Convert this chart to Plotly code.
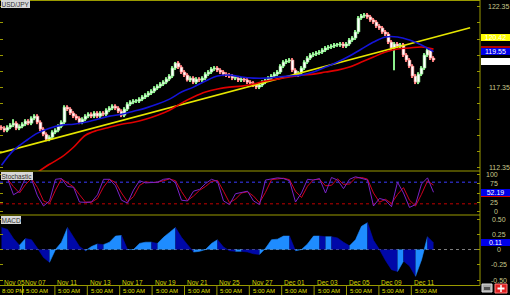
import plotly.graph_objects as go

# ---------------- data ----------------
close = [114.79,114.66,114.85,114.98,115.10,114.79,114.91,115.04,115.23,115.10,
         115.41,115.54,115.16,114.73,114.41,114.10,114.23,114.54,114.66,114.91,
         115.16,116.10,115.98,115.73,115.54,115.41,115.16,115.35,115.54,115.66,
         115.54,115.73,115.54,115.73,115.66,115.91,116.04,116.16,116.04,115.85,
         115.60,115.98,116.29,116.41,116.48,116.48,116.60,116.73,116.85,116.98,
         117.10,117.29,117.41,117.54,117.66,117.85,118.04,118.54,118.85,118.60,
         118.29,118.10,117.79,117.91,117.66,117.85,117.79,117.91,118.16,118.29,
         118.48,118.54,118.41,118.29,118.16,118.10,118.04,117.91,117.91,117.79,
         117.85,117.79,117.66,117.60,117.48,117.35,117.48,117.66,117.79,117.91,
         118.04,118.16,118.29,118.66,118.91,118.98,119.04,118.41,118.10,118.23,
         118.54,118.91,119.16,119.35,119.41,119.48,119.54,119.66,119.79,119.85,
         119.91,119.98,119.98,120.04,119.91,120.04,120.29,120.41,120.79,121.66,
         121.79,121.85,121.73,121.54,121.41,121.16,121.04,120.79,120.66,120.16,
         119.79,120.04,119.91,119.98,119.35,119.04,118.66,118.04,117.66,118.16,
         118.54,119.35,119.66,119.16,119.04]
first_open = 114.85
spike_low = {131: 118.40, 62: 117.70}
spike_high = {4: 115.35, 58: 118.92}

# moving averages, one value every 4 bars
blue_ma = [112.48,113.41,113.98,114.48,114.79,114.98,115.04,115.16,115.35,115.54,
           115.66,115.85,116.04,116.29,116.60,117.04,117.35,117.73,118.04,118.10,
           117.98,117.91,117.91,117.98,118.04,118.10,118.29,118.60,118.91,119.29,
           119.73,120.16,120.48,120.48,120.29,119.98,119.56]
red_ma_start = 3  # in 4-bar steps
red_ma = [112.04,112.54,112.98,113.60,114.35,114.66,114.85,115.04,115.16,115.35,
          115.60,115.91,116.35,116.73,117.04,117.23,117.35,117.41,117.54,117.73,
          117.85,117.98,118.10,118.16,118.29,118.41,118.60,118.91,119.23,119.54,
          119.73,119.79,119.85,119.72]
trend_x = [-0.5, 156.2]
trend_y = [113.25, 121.05]

# stochastic %K and MACD, one value every 2 bars
stoch_k = [88,90,45,55,92,88,42,14,28,88,
           90,68,66,25,24,25,45,88,88,70,
           30,22,58,84,78,80,80,88,90,78,
           30,28,55,60,76,88,82,28,18,48,
           52,55,28,18,86,88,92,90,84,25,
           50,88,86,90,50,93,86,62,88,95,
           91,86,14,35,30,12,80,50,10,18,
           75,92,52]
macd = [0.36,0.33,0.18,0.07,0.18,0.16,0.02,-0.13,-0.21,0.00,
        0.12,0.36,0.20,0.05,-0.02,0.05,0.09,0.08,0.12,0.22,
        0.23,0.00,0.00,0.10,0.12,0.12,0.10,0.20,0.28,0.36,
        0.20,0.08,-0.04,-0.03,0.00,0.10,0.16,0.04,-0.02,-0.03,
        -0.03,-0.04,-0.07,-0.08,0.02,0.16,0.17,0.22,0.22,-0.02,
        0.00,0.09,0.22,0.22,0.21,0.21,0.19,0.12,0.06,0.16,
        0.38,0.44,0.15,0.00,-0.18,-0.33,-0.36,-0.19,-0.27,-0.44,
        -0.17,0.21,0.11]

date_labels = ["Nov 05","Nov 07","Nov 11","Nov 13","Nov 17","Nov 19","Nov 21",
               "Nov 25","Nov 27","Dec 01","Dec 03","Dec 05","Dec 09","Dec 11"]
time_labels = ["8:00 PM"] + ["5:00 AM"] * 13

price_ticks = ["122.35", "117.35", "112.35"]
stoch_ticks = ["100", "75", "25", "0"]
macd_ticks = ["0.50", "0.25", "0", "-0.25", "-0.50"]

last_trend, last_red, last_blue, last_close = "120.42", 119.72, "119.55", 118.97
stoch_last, stoch_d_last = "52.19", 47.5
macd_last = "0.11"

# ---------------- geometry helpers ----------------
W, H = 510, 295
PW = 480  # plot width in px


def py(px):  # pixel row -> paper y
    return 1 - px / H


def pxx(px):  # pixel column -> paper x
    return px / PW


OLIVE = "#9A9A00"
LABEL = "#C8C88C"
FONT = "Liberation Sans, Arial"

bars = list(range(len(close)))
opens = [first_open] + close[:-1]
highs = [max(o, c) + 0.12 for o, c in zip(opens, close)]
lows = [min(o, c) - 0.12 for o, c in zip(opens, close)]
for k, v in spike_low.items():
    lows[k] = v
for k, v in spike_high.items():
    highs[k] = v
up = [c >= o for o, c in zip(opens, close)]
edge = ["#8CF08C" if u else "#FF8080" for u in up]

fig = go.Figure()

# main panel
fig.add_trace(go.Scatter(x=trend_x, y=trend_y, mode="lines",
                         line=dict(color="#E6E600", width=1.6), yaxis="y", hoverinfo="skip"))
fig.add_trace(go.Scatter(x=[red_ma_start * 4 + 4 * k for k in range(len(red_ma))], y=red_ma,
                         mode="lines", line=dict(color="#E00000", width=1.6, shape="spline"),
                         yaxis="y", hoverinfo="skip"))
fig.add_trace(go.Scatter(x=[4 * k for k in range(len(blue_ma))], y=blue_ma,
                         mode="lines", line=dict(color="#1414D8", width=1.6, shape="spline"),
                         yaxis="y", hoverinfo="skip"))
# candle wicks
fig.add_trace(go.Bar(x=bars, base=lows, y=[h - l for h, l in zip(highs, lows)], width=0.34,
                     marker=dict(color=edge, line=dict(width=0)), yaxis="y", hoverinfo="skip"))
# candle bodies
fig.add_trace(go.Bar(x=bars, base=[min(o, c) for o, c in zip(opens, close)],
                     y=[max(abs(c - o), 0.05) for o, c in zip(opens, close)], width=0.95,
                     marker=dict(color="#FFFFFF", line=dict(color=edge, width=0.6)),
                     yaxis="y", hoverinfo="skip"))

# stochastic
sx = [2 * k for k in range(len(stoch_k))]
stoch_d = [stoch_k[0]] + [(stoch_k[k] + stoch_k[k - 1]) / 2 for k in range(1, len(stoch_k))]
fig.add_trace(go.Scatter(x=sx, y=stoch_d, mode="lines", line=dict(color="#D00020", width=1),
                         yaxis="y2", hoverinfo="skip"))
fig.add_trace(go.Scatter(x=sx, y=stoch_k, mode="lines", line=dict(color="#7A22C8", width=1),
                         yaxis="y2", hoverinfo="skip"))

# MACD: filled area, light where rising, dark where falling
LIGHT, DARK = "#1E8CFF", "#0008A8"
mx = [2 * k for k in range(len(macd))]
runs = []
start = 0
cur = macd[1] >= macd[0]
for k in range(1, len(macd) - 1):
    d = macd[k + 1] >= macd[k]
    if d != cur:
        runs.append((start, k, cur))
        start, cur = k, d
runs.append((start, len(macd) - 1, cur))
for a, b, rising in runs:
    col = LIGHT if rising else DARK
    fig.add_trace(go.Scatter(x=mx[a:b + 1], y=macd[a:b + 1], mode="lines", fill="tozeroy",
                             fillcolor=col, line=dict(color=col, width=0.6),
                             yaxis="y3", hoverinfo="skip"))

# ---------------- axes ----------------
main_top, main_bot, st_bot, macd_bot = 1, 171, 215, 285.5
fig.update_layout(
    width=W, height=H, margin=dict(l=0, r=W - PW, t=0, b=0),
    paper_bgcolor="black", plot_bgcolor="black", showlegend=False, barmode="overlay",
    xaxis=dict(domain=[0, 1], range=[-0.5, 159.5], showgrid=False, zeroline=False,
               showticklabels=False, showline=False, ticks="", anchor="y3"),
    yaxis=dict(domain=[py(main_bot), py(main_top)], range=[112.12, 122.72], showgrid=False,
               zeroline=False, showticklabels=False, side="right", ticks="inside", ticklen=3,
               tickcolor=OLIVE, mirror="ticks", tickvals=[112.35 + k for k in range(11)]),
    yaxis2=dict(domain=[py(st_bot), py(main_bot)], range=[-11, 111], showgrid=False,
                zeroline=False, showticklabels=False, side="right", ticks="inside", ticklen=3,
                tickcolor=OLIVE, mirror="ticks", tickvals=[0, 25, 50, 75, 100]),
    yaxis3=dict(domain=[py(macd_bot), py(st_bot)], range=[-0.590, 0.566], showgrid=False,
                zeroline=False, showticklabels=False, side="right", ticks="inside", ticklen=3,
                tickcolor=OLIVE, mirror="ticks", tickvals=[-0.5, -0.25, 0, 0.25, 0.5]),
)

shapes = []
# panel borders
for ypx in [0.5, main_bot, st_bot, macd_bot]:
    shapes.append(dict(type="line", xref="paper", yref="paper", x0=0, x1=1, y0=py(ypx), y1=py(ypx),
                       line=dict(color=OLIVE, width=1)))
shapes.append(dict(type="line", xref="paper", yref="paper", x0=1, x1=1, y0=py(macd_bot), y1=1,
                   line=dict(color=OLIVE, width=1)))
# stochastic levels
shapes.append(dict(type="line", xref="paper", yref="y2", x0=0, x1=1, y0=80, y1=80, layer="below",
                   line=dict(color="#3A3AFF", width=1, dash="dot")))
shapes.append(dict(type="line", xref="paper", yref="y2", x0=0, x1=1, y0=20, y1=20, layer="below",
                   line=dict(color="#C00000", width=1, dash="dot")))
# macd zero
shapes.append(dict(type="line", xref="paper", yref="y3", x0=0, x1=1, y0=0, y1=0, layer="below",
                   line=dict(color="#808080", width=1, dash="dot")))
# time row dividers
tick_pos = [-0.5] + [7 + 10.8 * k for k in range(len(date_labels) - 1)]
for tp in tick_pos[1:]:
    shapes.append(dict(type="line", xref="x", yref="paper", x0=tp, x1=tp, y0=0, y1=py(macd_bot),
                       line=dict(color=OLIVE, width=1)))
# bottom-right icons
shapes.append(dict(type="rect", xref="paper", yref="paper", x0=pxx(482), x1=pxx(492),
                   y0=py(292), y1=py(284), fillcolor="#A8A8A8", line=dict(color="#E0E0E0", width=1)))
shapes.append(dict(type="rect", xref="paper", yref="paper", x0=pxx(484), x1=pxx(490),
                   y0=py(290), y1=py(287), fillcolor="#505050", line=dict(width=0)))
shapes.append(dict(type="rect", xref="paper", yref="paper", x0=pxx(495), x1=pxx(507),
                   y0=py(293), y1=py(284), fillcolor="#E02020", line=dict(color="#FF8080", width=1)))
shapes.append(dict(type="line", xref="paper", yref="paper", x0=pxx(497.5), x1=pxx(504.5),
                   y0=py(288.5), y1=py(288.5), line=dict(color="white", width=2)))
shapes.append(dict(type="line", xref="paper", yref="paper", x0=pxx(501), x1=pxx(501),
                   y0=py(292), y1=py(285), line=dict(color="white", width=1.5)))

ann = []
# right axis labels
for t in price_ticks:
    ann.append(dict(xref="paper", yref="y", x=pxx(499), y=float(t), text=t, showarrow=False,
                    xanchor="center", yanchor="middle", font=dict(family=FONT, size=7, color=LABEL)))
for t in stoch_ticks:
    ann.append(dict(xref="paper", yref="y2", x=pxx(500), y=float(t), text=t, showarrow=False,
                    xanchor="right", yanchor="middle", font=dict(family=FONT, size=7, color=LABEL)))
for t in macd_ticks:
    ann.append(dict(xref="paper", yref="y3", x=pxx(499.5), y=float(t), text=t, showarrow=False,
                    xanchor="center", yanchor="middle", font=dict(family=FONT, size=7, color=LABEL)))


def box(yref, yval, text, bg, fg="white"):
    return dict(xref="paper", yref=yref, x=pxx(495.5), y=yval, text=text, showarrow=False,
                xanchor="center", yanchor="middle", width=29, height=7, bgcolor=bg,
                borderpad=0, borderwidth=0, font=dict(family=FONT, size=7, color=fg))


ann.append(box("y", float(last_trend), last_trend, "#FFFF00"))
ann.append(box("y", last_red, "", "#B00000"))
ann.append(box("y", float(last_blue), last_blue, "#0000E8"))
ann.append(box("y", last_close, "", "#FFFFFF"))
ann.append(box("y2", stoch_d_last, "", "#E00000"))
ann.append(box("y2", float(stoch_last), stoch_last, "#0000E8"))
ann.append(box("y3", float(macd_last), macd_last, "#0000E8"))

# panel titles
for text, ypx in [("USD/JPY", 0.5), ("Stochastic", 171.5), ("MACD", 215.5)]:
    ann.append(dict(xref="paper", yref="paper", x=pxx(0.5), y=py(ypx), text=text, showarrow=False,
                    xanchor="left", yanchor="top", bgcolor="#D8D8D8", bordercolor="#F0F0F0",
                    borderwidth=0, borderpad=0.5, font=dict(family=FONT, size=6.5, color="#303030")))

# date and time labels
for k, (tp, dl, tl) in enumerate(zip(tick_pos, date_labels, time_labels)):
    ann.append(dict(xref="x", yref="paper", x=tp, y=py(282), text=dl, showarrow=False,
                    xanchor="left", yanchor="middle", xshift=1.5 if k == 0 else 0.5,
                    font=dict(family=FONT, size=6.5, color="#D4D400")))
    ann.append(dict(xref="x", yref="paper", x=tp, y=py(291), text=tl, showarrow=False,
                    xanchor="left", yanchor="middle", xshift=0 if k == 0 else 1.5,
                    font=dict(family=FONT, size=6, color="#E0E000")))

fig.update_layout(shapes=shapes, annotations=ann)
fig.write_html("out.html")
